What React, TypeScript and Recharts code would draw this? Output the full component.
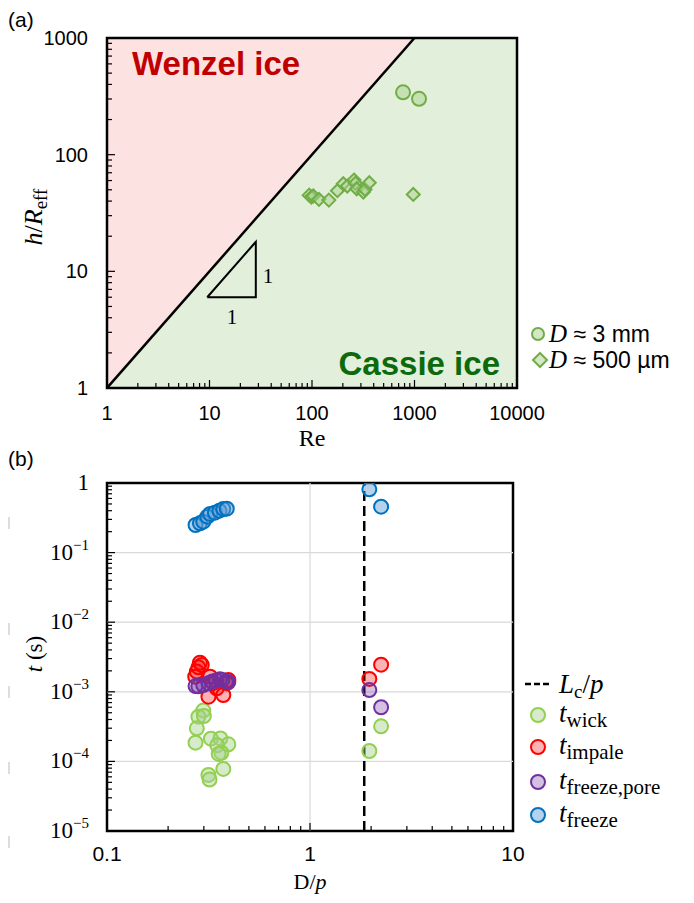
import React from 'react';
import { ComposedChart, ScatterChart, Scatter, Area, XAxis, YAxis, ReferenceLine, ReferenceArea } from 'recharts';

// (a) wetting state map: h/R_eff against Re
const reMm = [773, 1107];
const hMm = [342, 301];
const reUm = [94, 98.5, 103, 117, 146, 177, 202, 221, 257, 265, 273, 317, 329, 362, 973];
const hUm = [45, 43.3, 44.2, 41.4, 40.8, 49.1, 56.4, 53.8, 60.6, 56.8, 51, 47.8, 50.4, 57.5, 45.6];
const boundaryRe = [1, 1000, 10000];
const boundaryH = [1, 1000, 1000];
const slopeRe = [9.5, 28.3, 28.3, 9.5];
const slopeH = [6, 6, 17.9, 6];

// (b) time scales against D/p
const lcOverP = 1.85;
const wickDp = [0.298, 0.282, 0.3, 0.277, 0.273, 0.325, 0.362, 0.396, 0.349, 0.366, 0.355, 0.374, 0.316, 0.32, 1.96, 2.24];
const wickT = [5.37e-4, 4.39e-4, 4.49e-4, 2.99e-4, 1.86e-4, 2.12e-4, 2.14e-4, 1.76e-4, 1.7e-4, 1.33e-4, 1.28e-4, 7.8e-5, 6.4e-5, 5.5e-5, 1.41e-4, 3.19e-4];
const impaleDp = [0.287, 0.293, 0.282, 0.277, 0.272, 0.322, 0.333, 0.316, 0.374, 0.389, 0.347, 0.396, 1.96, 2.24];
const impaleT = [2.62e-3, 2.43e-3, 2.25e-3, 1.95e-3, 1.65e-3, 1.65e-3, 1.33e-3, 8.5e-4, 9.0e-4, 1.33e-3, 1.12e-3, 1.48e-3, 1.53e-3, 2.45e-3];
const poreDp = [0.273, 0.282, 0.298, 0.316, 0.33, 0.345, 0.36, 0.37, 0.385, 0.396, 1.96, 2.24];
const poreT = [1.21e-3, 1.2e-3, 1.25e-3, 1.33e-3, 1.41e-3, 1.45e-3, 1.51e-3, 1.48e-3, 1.41e-3, 1.38e-3, 1.06e-3, 6.0e-4];
const freezeDp = [0.273, 0.287, 0.298, 0.312, 0.322, 0.34, 0.358, 0.374, 0.389, 1.96, 2.24];
const freezeT = [0.249, 0.264, 0.278, 0.328, 0.359, 0.375, 0.4, 0.423, 0.428, 0.81, 0.457];

const zip = (xs: number[], ys: number[]) => xs.map((x, i) => ({ x, y: ys[i] }));

const logTicks = (lo: number, hi: number) => {
  const out: number[] = [];
  for (let d = lo; d < hi * 0.999; d *= 10) {
    for (let k = 1; k < 10; k++) out.push(+(k * d).toPrecision(6));
  }
  out.push(hi);
  return out;
};

const isMajor = (v: number) => Math.abs(Math.log10(v) - Math.round(Math.log10(v))) < 1e-6;

const SANS = '"Liberation Sans", Arial, sans-serif';
const SERIF = '"Liberation Serif", "DejaVu Serif", serif';

const XTickA = ({ x, y, payload }: any) => {
  const major = isMajor(payload.value);
  return (
    <g>
      <line x1={x} x2={x} y1={y} y2={y - (major ? 8 : 5)} stroke="#000" strokeWidth={1.2} />
      {major && (
        <text x={x} y={y + 32} textAnchor="middle" fontFamily={SANS} fontSize={20} fill="#000">
          {payload.value}
        </text>
      )}
    </g>
  );
};

const YTickA = ({ x, y, payload }: any) => {
  const major = isMajor(payload.value);
  return (
    <g>
      <line x1={x} x2={x + (major ? 8 : 5)} y1={y} y2={y} stroke="#000" strokeWidth={1.2} />
      {major && (
        <text x={x - 19} y={y + 7} textAnchor="end" fontFamily={SANS} fontSize={20} fill="#000">
          {payload.value}
        </text>
      )}
    </g>
  );
};

const XTickB = ({ x, y, payload }: any) => {
  const major = isMajor(payload.value);
  return (
    <g>
      <line x1={x} x2={x} y1={y} y2={y - (major ? 8 : 5)} stroke="#000" strokeWidth={1.2} />
      {major && (
        <text x={x} y={y + 30} textAnchor="middle" fontFamily={SANS} fontSize={21} fill="#000">
          {payload.value}
        </text>
      )}
    </g>
  );
};

const YTickB = ({ x, y, payload }: any) => {
  const v = payload.value;
  const major = isMajor(v);
  const exp = Math.round(Math.log10(v));
  return (
    <g>
      <line x1={x} x2={x + (major ? 8 : 5)} y1={y} y2={y} stroke="#000" strokeWidth={1.2} />
      {major && (
        <text x={x - 18} y={y + 7} textAnchor="end" fontFamily={SERIF} fontSize={23} fill="#000">
          {exp === 0 ? '1' : (
            <>
              <tspan>10</tspan>
              <tspan dy={-10} fontSize={15}>{'\u2212' + -exp}</tspan>
            </>
          )}
        </text>
      )}
    </g>
  );
};

const nothing = () => <g />;

const dot = (stroke: string, fill: string, op: number, r: number) => (p: any) => (
  <circle cx={p.cx} cy={p.cy} r={r} stroke={stroke} strokeWidth={2} fill={fill} fillOpacity={op} />
);

const diamond = (p: any) => {
  const s = 6.5;
  return (
    <polygon
      points={`${p.cx},${p.cy - s} ${p.cx + s},${p.cy} ${p.cx},${p.cy + s} ${p.cx - s},${p.cy}`}
      stroke="#70ad47"
      strokeWidth={2}
      fill="#a9d18e"
      fillOpacity={0.5}
    />
  );
};

const GREEN = { stroke: '#92d050', fill: '#a9d18e', op: 0.45 };
const RED = { stroke: '#ff0000', fill: '#ff0000', op: 0.3 };
const PURPLE = { stroke: '#7030a0', fill: '#7030a0', op: 0.3 };
const BLUE = { stroke: '#0070c0', fill: '#5b9bd5', op: 0.45 };

const regionData = boundaryRe.map((x, i) => ({ x, wenzel: [boundaryH[i], 1000], cassie: [1, boundaryH[i]] }));

const PanelA = () => (
  <ComposedChart
    width={694}
    height={430}
    data={regionData}
    margin={{ top: 38, right: 177, bottom: 12, left: 47 }}
  >
    <XAxis
      dataKey="x"
      type="number"
      scale="log"
      domain={[1, 10000]}
      ticks={logTicks(1, 10000)}
      interval={0}
      allowDataOverflow
      axisLine={false}
      tickLine={false}
      tickSize={0}
      tickMargin={0}
      height={30}
      tick={<XTickA />}
    />
    <YAxis
      dataKey="y"
      type="number"
      scale="log"
      domain={[1, 1000]}
      ticks={logTicks(1, 1000)}
      interval={0}
      allowDataOverflow
      axisLine={false}
      tickLine={false}
      tickSize={0}
      tickMargin={0}
      width={60}
      tick={<YTickA />}
    />
    <Area dataKey="cassie" type="linear" fill="#e2efda" fillOpacity={1} stroke="none" isAnimationActive={false} />
    <Area dataKey="wenzel" type="linear" fill="#fde2e2" fillOpacity={1} stroke="none" isAnimationActive={false} />
    <Scatter data={zip(boundaryRe.slice(0, 2), boundaryH.slice(0, 2))} line={{ stroke: '#000', strokeWidth: 2.5 }} shape={nothing} isAnimationActive={false} />
    <Scatter data={zip(slopeRe, slopeH)} line={{ stroke: '#000', strokeWidth: 2 }} shape={nothing} isAnimationActive={false} />
    <Scatter data={zip(reUm, hUm)} shape={diamond} isAnimationActive={false} />
    <Scatter data={zip(reMm, hMm)} shape={dot('#70ad47', '#a9d18e', 0.5, 7)} isAnimationActive={false} />
    <ReferenceArea x1={1} x2={10000} y1={1} y2={1000} fill="none" stroke="#000" strokeWidth={2.5} ifOverflow="visible" />
  </ComposedChart>
);

const decadesB = [1e-4, 1e-3, 1e-2, 1e-1];

const PanelB = () => (
  <ScatterChart width={694} height={463} margin={{ top: 43, right: 181, bottom: 42, left: 47 }}>
    <XAxis
      dataKey="x"
      type="number"
      scale="log"
      domain={[0.1, 10]}
      ticks={logTicks(0.1, 10)}
      interval={0}
      allowDataOverflow
      axisLine={false}
      tickLine={false}
      tickSize={0}
      tickMargin={0}
      height={30}
      tick={<XTickB />}
    />
    <YAxis
      dataKey="y"
      type="number"
      scale="log"
      domain={[1e-5, 1]}
      ticks={logTicks(1e-5, 1)}
      interval={0}
      allowDataOverflow
      axisLine={false}
      tickLine={false}
      tickSize={0}
      tickMargin={0}
      width={60}
      tick={<YTickB />}
    />
    {decadesB.map((v) => (
      <ReferenceLine key={v} y={v} stroke="#d9d9d9" strokeWidth={1.2} />
    ))}
    <ReferenceLine x={1} stroke="#d9d9d9" strokeWidth={1.2} />
    <ReferenceLine x={lcOverP} stroke="#000" strokeWidth={2.5} strokeDasharray="10 5" />
    <Scatter data={zip(wickDp, wickT)} shape={dot(GREEN.stroke, GREEN.fill, GREEN.op, 7)} isAnimationActive={false} />
    <Scatter data={zip(impaleDp, impaleT)} shape={dot(RED.stroke, RED.fill, RED.op, 7)} isAnimationActive={false} />
    <Scatter data={zip(poreDp, poreT)} shape={dot(PURPLE.stroke, PURPLE.fill, PURPLE.op, 7)} isAnimationActive={false} />
    <Scatter data={zip(freezeDp, freezeT)} shape={dot(BLUE.stroke, BLUE.fill, BLUE.op, 7)} isAnimationActive={false} />
    <ReferenceArea x1={0.1} x2={10} y1={1e-5} y2={1} fill="none" stroke="#000" strokeWidth={2.5} ifOverflow="visible" />
  </ScatterChart>
);

const legendB = [
  { sub: 'wick', c: GREEN, y: 715 },
  { sub: 'impale', c: RED, y: 747 },
  { sub: 'freeze,pore', c: PURPLE, y: 782 },
  { sub: 'freeze', c: BLUE, y: 815 },
];

const Overlay = () => (
  <svg width={694} height={903} style={{ position: 'absolute', left: 0, top: 0, pointerEvents: 'none' }}>
    <text x={8} y={27} fontFamily={SANS} fontSize={21}>(a)</text>
    <text x={8} y={466} fontFamily={SANS} fontSize={21}>(b)</text>

    <text x={132} y={75} fontFamily={SANS} fontSize={33} fontWeight="bold" fill="#c00000">Wenzel ice</text>
    <text x={500} y={375} textAnchor="end" fontFamily={SANS} fontSize={33} fontWeight="bold" fill="#0b6a0b">Cassie ice</text>
    <text x={232} y={324} textAnchor="middle" fontFamily={SERIF} fontSize={21}>1</text>
    <text x={268} y={283} textAnchor="middle" fontFamily={SERIF} fontSize={21}>1</text>

    <text x={312} y={446} textAnchor="middle" fontFamily={SERIF} fontSize={24}>Re</text>
    <text transform="translate(42,217) rotate(-90)" textAnchor="middle" fontFamily={SERIF} fontSize={26}>
      <tspan fontStyle="italic">h</tspan>
      <tspan>/</tspan>
      <tspan fontStyle="italic">R</tspan>
      <tspan dy={5} fontSize={19}>eff</tspan>
    </text>

    <circle cx={538} cy={334} r={6} stroke="#70ad47" strokeWidth={2} fill="#a9d18e" fillOpacity={0.5} />
    <polygon points="540,353 547,360 540,367 533,360" stroke="#70ad47" strokeWidth={2} fill="#a9d18e" fillOpacity={0.5} />
    <text x={549} y={342} fontSize={25}>
      <tspan fontFamily={SERIF} fontStyle="italic">D</tspan>
      <tspan fontFamily={SANS} fontSize={23}> ≈ 3 mm</tspan>
    </text>
    <text x={549} y={368} fontSize={25}>
      <tspan fontFamily={SERIF} fontStyle="italic">D</tspan>
      <tspan fontFamily={SANS} fontSize={23}> ≈ 500 µm</tspan>
    </text>

    <text x={310} y={889} textAnchor="middle" fontFamily={SERIF} fontSize={22}>
      <tspan>D/</tspan>
      <tspan fontStyle="italic">p</tspan>
    </text>
    <text transform="translate(42,654) rotate(-90)" textAnchor="middle" fontFamily={SERIF} fontSize={23}>
      <tspan fontStyle="italic">t</tspan>
      <tspan> (s)</tspan>
    </text>
    {[523, 629, 692, 768, 842].map((y) => (
      <line key={y} x1={9} x2={9} y1={y - 6} y2={y + 6} stroke="#bbb" strokeWidth={1} />
    ))}

    <line x1={525} x2={549} y1={684} y2={684} stroke="#000" strokeWidth={2.5} strokeDasharray="6 3" />
    <text x={559} y={693} fontFamily={SERIF} fontSize={27}>
      <tspan fontStyle="italic">L</tspan>
      <tspan dy={5} fontSize={19}>c</tspan>
      <tspan dy={-5}>/</tspan>
      <tspan fontStyle="italic">p</tspan>
    </text>
    {legendB.map((l) => (
      <g key={l.sub}>
        <circle cx={538} cy={l.y} r={7} stroke={l.c.stroke} strokeWidth={2} fill={l.c.fill} fillOpacity={l.c.op} />
        <text x={559} y={l.y + 7} fontFamily={SERIF} fontSize={27}>
          <tspan fontStyle="italic">t</tspan>
          <tspan dy={5} fontSize={21}>{l.sub}</tspan>
        </text>
      </g>
    ))}
  </svg>
);

export default function App() {
  return (
    <div style={{ position: 'absolute', left: 0, top: 0, width: 694, height: 903, background: '#fff' }}>
      <div style={{ position: 'absolute', left: 0, top: 0 }}>
        <PanelA />
      </div>
      <div style={{ position: 'absolute', left: 0, top: 440 }}>
        <PanelB />
      </div>
      <Overlay />
    </div>
  );
}
